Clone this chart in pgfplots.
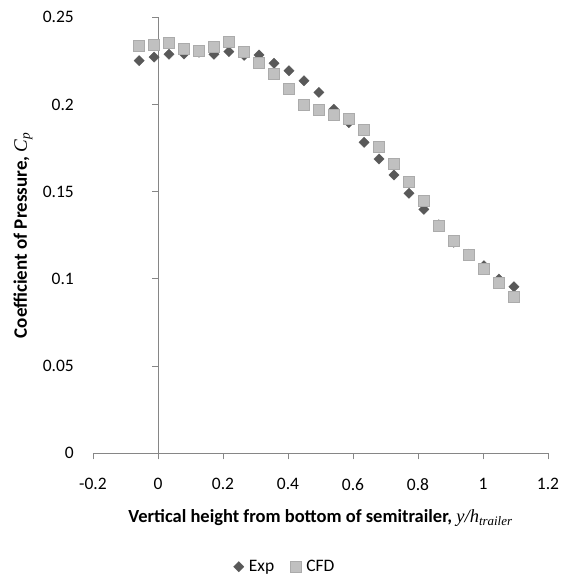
\documentclass[border=0pt]{standalone}
\usepackage{pgfplots}
\pgfplotsset{compat=1.18}
\usepackage{fontspec}
\setmainfont{Carlito}
\newfontfamily\tnr{Liberation Serif}
\definecolor{expc}{HTML}{595959}
\definecolor{cfdc}{HTML}{C0C0C0}
\definecolor{cfdb}{HTML}{ABABAB}
\definecolor{axc}{HTML}{868686}
\begin{document}
\begin{tikzpicture}
\useasboundingbox (-93pt,-124.7pt) rectangle (467pt,453.3pt);
\begin{axis}[
  at={(0,0)}, anchor=south west,
  scale only axis, width=455pt, height=436pt,
  xmin=-0.2, xmax=1.2, ymin=0, ymax=0.25,
  axis x line*=bottom, axis y line*=left,
  y axis line style={draw=none},
  x axis line style={axc, line width=0.8pt},
  xtick={-0.2,0,0.2,0.4,0.6,0.8,1,1.2},
  ytick={0,0.05,0.1,0.15,0.2,0.25},
  xtick pos=bottom, xtick align=outside, major tick length=6pt,
  xtick style={axc, line width=0.8pt},
  ytick style={draw=none},
  /pgf/number format/assume math mode=true,
  /pgf/number format/fixed,
  /pgf/number format/precision=2,
  tick label style={font=\fontsize{17.5}{20}\selectfont, black},
  yticklabel style={inner sep=0pt, anchor=east, xshift=-19pt},
  xticklabel style={inner sep=0pt, anchor=north, yshift=-19pt},
  clip=false,
  xlabel={{\bfseries Vertical height from bottom of semitrailer, }{\tnr\itshape y/h\textsubscript{trailer}}},
  xlabel style={at={(axis description cs:0.5,-0.149)}, anchor=center, font=\fontsize{18.5}{21}\selectfont},
  ylabel={{\bfseries Coefficient of Pressure, }{\tnr\itshape C\textsubscript{p}}},
  ylabel style={at={(axis description cs:-0.1538,0.5)}, anchor=center, font=\fontsize{19}{22}\selectfont},
  legend columns=2,
  legend style={draw=none, fill=none, font=\fontsize{17.5}{20}\selectfont,
    at={(axis description cs:0.422,-0.26)}, anchor=center,
    /tikz/every odd column/.append style={column sep=3pt},
    /tikz/every even column/.append style={column sep=14pt}},
]
\draw[axc, line width=0.8pt] (axis cs:0,0) -- (axis cs:0,0.25);
\draw[axc, line width=0.8pt] (axis cs:0,0.05) -- ++(-6pt,0pt);
\draw[axc, line width=0.8pt] (axis cs:0,0.10) -- ++(-6pt,0pt);
\draw[axc, line width=0.8pt] (axis cs:0,0.15) -- ++(-6pt,0pt);
\draw[axc, line width=0.8pt] (axis cs:0,0.20) -- ++(-6pt,0pt);
\draw[axc, line width=0.8pt] (axis cs:0,0.25) -- ++(-6pt,0pt);
\addplot[only marks, mark=square*, mark size=3.65pt, mark options={rotate=45, fill=expc, draw=expc, line width=0.3pt}] coordinates {
(-0.058,0.2251) (-0.012,0.2272) (0.034,0.2288) (0.080,0.2290) (0.126,0.2300)
(0.172,0.2288) (0.218,0.2303) (0.265,0.2282) (0.311,0.2284) (0.357,0.2236)
(0.403,0.2194) (0.449,0.2136) (0.495,0.2070) (0.541,0.1973) (0.587,0.1896)
(0.634,0.1783) (0.680,0.1688) (0.726,0.1596) (0.772,0.1491) (0.818,0.1399)
(0.864,0.1310) (0.910,0.1210) (0.956,0.1141) (1.003,0.1076) (1.049,0.0999)
(1.095,0.0955)};
\addlegendentry{Exp}
\addplot[only marks, mark=square*, mark size=5.5pt, mark options={fill=cfdc, draw=cfdb, line width=0.8pt}] coordinates {
(-0.058,0.2337) (-0.012,0.2343) (0.034,0.2351) (0.080,0.2316) (0.126,0.2308)
(0.172,0.2330) (0.218,0.2358) (0.265,0.2301) (0.311,0.2236) (0.357,0.2173)
(0.403,0.2089) (0.449,0.1999) (0.495,0.1968) (0.541,0.1938) (0.587,0.1915)
(0.634,0.1854) (0.680,0.1756) (0.726,0.1659) (0.772,0.1557) (0.818,0.1445)
(0.864,0.1303) (0.910,0.1219) (0.956,0.1135) (1.003,0.1057) (1.049,0.0978)
(1.095,0.0896)};
\addlegendentry{CFD}
\end{axis}
\end{tikzpicture}
\end{document}
